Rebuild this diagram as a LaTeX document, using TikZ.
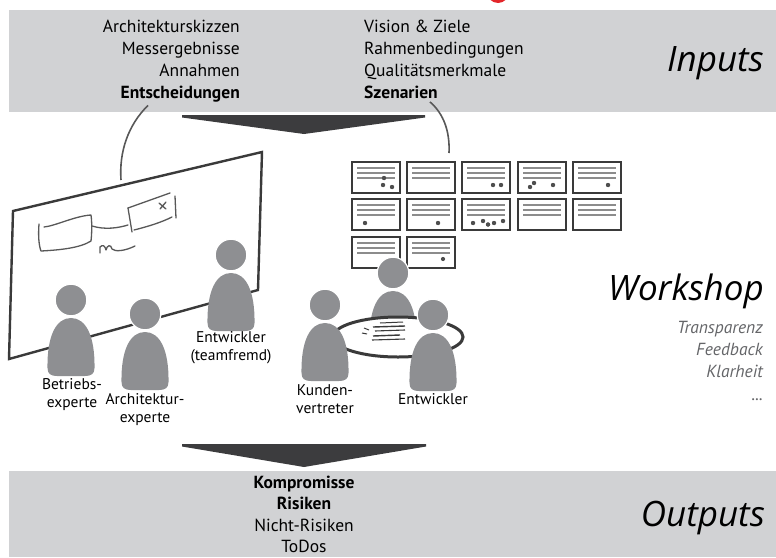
\documentclass[tikz,border=0pt]{standalone}
\usepackage{fontspec}
\setmainfont{PT Sans}
\newfontfamily\handfont{Open Sans}
\usetikzlibrary{positioning,calc}

\definecolor{bandgray}{HTML}{D1D2D4}
\definecolor{arrowgray}{HTML}{3C3C3E}
\definecolor{persongray}{HTML}{8E8F92}
\definecolor{inkgray}{HTML}{3A3A3A}
\definecolor{linegray}{HTML}{8C8C8C}
\definecolor{textgray}{HTML}{646568}
\definecolor{notered}{HTML}{E3262A}

\tikzset{
  txt/.style={font=\fontsize{17.5}{20}\selectfont, inner sep=0pt},
  txtbold/.style={txt, font=\bfseries\fontsize{17.5}{20}\selectfont},
  rolle/.style={font=\fontsize{15.5}{18}\selectfont, inner sep=0pt, align=center},
  title/.style={font=\handfont\itshape\fontsize{35}{40}\selectfont, inner sep=0pt},
  aspect/.style={font=\itshape\fontsize{17.5}{20}\selectfont, text=textgray, inner sep=0pt},
  connector/.style={draw=inkgray!85, line width=1.6pt},
  sketch/.style={draw=inkgray!85, line width=1.3pt, line cap=round, line join=round},
  card/.style={draw=inkgray, line width=2.6pt, fill=white},
  cardline/.style={draw=linegray, line width=1.1pt},
}

% a person: head centre at (#1,#2)
\newcommand{\person}[2]{%
  \begin{scope}[shift={(#1,#2)}]
    \fill[persongray] (-23.5,68) .. controls (-24,36) and (-15,18) .. (0,18)
      .. controls (15,18) and (24,36) .. (23.5,68)
      .. controls (23.5,74) and (20,76) .. (14,76) -- (-14,76)
      .. controls (-20,76) and (-23.5,74) .. (-23.5,68) -- cycle;
    \filldraw[persongray, draw=white, line width=1.2pt] (0,0) circle (15.8);
  \end{scope}}

% a pinned card, top left corner at (#1,#2)
\newcommand{\card}[2]{%
  \draw[card] (#1,#2) rectangle ++(48,31);
  \foreach \dy in {6,11,16}
    \draw[cardline] ($(#1,#2)+(5,\dy)$) -- ++(38,0);}

\begin{document}
\begin{tikzpicture}[x=1pt, y=-1pt]
  \useasboundingbox (0,0) rectangle (776,557);

  % bands
  \fill[notered] (498,-8) circle (11);
  \fill[bandgray] (9,10) rectangle (776,112);
  \fill[bandgray] (9,471) rectangle (776,557);

  % flow arrows
  \fill[arrowgray] (182,115) -- (425,115) -- (425,117.5) -- (304,134) -- (182,117.5) -- cycle;
  \fill[arrowgray] (182,444) -- (426,444) -- (426,446.5) -- (304,467) -- (182,446.5) -- cycle;

  % inputs
  \node[txt, anchor=base east] (skizzen) at (240,32.5) {Architekturskizzen};
  \node[txt, anchor=base east] (messung) at (240,54.5) {Messergebnisse};
  \node[txt, anchor=base east] (annahmen) at (240,76.5) {Annahmen};
  \node[txtbold, anchor=base east] (entsch) at (240,98.5) {Entscheidungen};
  \node[txt, anchor=base west] (vision) at (364,32.5) {Vision \& Ziele};
  \node[txt, anchor=base west] (rahmen) at (364,54.5) {Rahmenbedingungen};
  \node[txt, anchor=base west] (quali) at (364,76.5) {Qualitätsmerkmale};
  \node[txtbold, anchor=base west] (szen) at (364,98.5) {Szenarien};
  \node[title, anchor=base east] (inputs) at (764,71) {Inputs};

  % connectors down to board and cards
  \coordinate (boardtop) at (121,180);
  \coordinate (cardtop) at (449,153);
  \draw[connector] ($(entsch.south east)+(-92,3)$) .. controls (128,125) and (119,152) .. (boardtop);
  \draw[connector] ($(szen.south west)+(66,3)$) .. controls (444,114) and (450,132) .. (cardtop);

  % whiteboard
  \draw[draw=inkgray, line width=2.4pt, fill=white, line join=miter]
    (13,211) -- (262,152) -- (258,290) -- (9,359) -- cycle;
  \draw[sketch] (39,224) .. controls (38,236) and (39,246) .. (41,251)
    .. controls (60,250) and (80,248) .. (91,241)
    .. controls (92,232) and (92,222) .. (91,215)
    .. controls (75,216) and (55,226) .. (44,227);
  \draw[sketch] (92,226) .. controls (105,230) and (118,228) .. (128,225);
  \draw[sketch] (128,208) -- (170,193);
  \draw[sketch] (128,208) -- (132,232);
  \draw[sketch] (134,230) .. controls (150,226) and (162,222) .. (172,217);
  \draw[sketch] (175,196) -- (176,218);
  \draw[sketch] (159,203) -- (166,209) (166,202) -- (160,209);
  \draw[sketch] (100,253) -- (100,247) .. controls (103,244) and (105,246) .. (106,250)
    .. controls (107,245) and (111,244) .. (112,249)
    .. controls (115,252) and (125,251) .. (135,246);

  % cards
  \foreach \cx in {352,407,462,518,573} {
    \card{\cx}{162}
    \card{\cx}{199}
  }
  \foreach \cx in {352,407}
    \card{\cx}{237}
  \foreach \px/\py in {384/178,383/185,392/187, 493/185,501/185,
      530/187,534/183,553/185, 608/185,
      365/223,438/223, 473/223,483/221,488/224.5,494/223,503/221,
      443/259}
    \fill[inkgray!90] (\px,\py) circle (2.1);

  % people at the board
  \person{71}{300}
  \person{145}{314}
  \person{231}{255}

  % table group
  \person{393}{273}
  \draw[draw=inkgray, line width=3pt, fill=white] (398,337) ellipse (65 and 20);
  \draw[inkgray, line width=1pt] (380,323) -- (403,322);
  \draw[inkgray, line width=1.4pt] (373,327) -- (405,326);
  \draw[inkgray, line width=1.1pt] (375,331) -- (405,330);
  \draw[inkgray, line width=1.4pt] (373,336) -- (400,335);
  \draw[inkgray, line width=1.1pt] (372,340) -- (405,339);
  \draw[inkgray, line width=1pt] (364,328) -- (369,330) (362,333) -- (367,334);
  \person{325}{305}
  \person{433}{315}

  % roles
  \node[rolle] (betrieb) at (72,395) {Betriebs-\\experte};
  \node[rolle] (archi) at (145,409.5) {Architektur-\\experte};
  \node[rolle] (fremd) at (231,348) {Entwickler\\(teamfremd)};
  \node[rolle] (kunde) at (325,399) {Kunden-\\vertreter};
  \node[rolle] (entw) at (433,399) {Entwickler};

  % workshop
  \node[title, anchor=base east] (workshop) at (764,300) {Workshop};
  \node[aspect, anchor=base east] (transp) at (763,333.5) {Transparenz};
  \node[aspect, anchor=base east] (feedback) at (763,355) {Feedback};
  \node[aspect, anchor=base east] (klarheit) at (763,377.5) {Klarheit};
  \node[aspect, anchor=base east] (mehr) at (763,400) {...};

  % outputs
  \node[txtbold, anchor=base] (kompro) at (304,488) {Kompromisse};
  \node[txtbold, anchor=base] (risiken) at (304,509.5) {Risiken};
  \node[txt, anchor=base] (nichtrisk) at (304,531) {Nicht-Risiken};
  \node[txt, anchor=base] (todos) at (304,552) {ToDos};
  \node[title, anchor=base east] (outputs) at (765,526) {Outputs};
\end{tikzpicture}
\end{document}
